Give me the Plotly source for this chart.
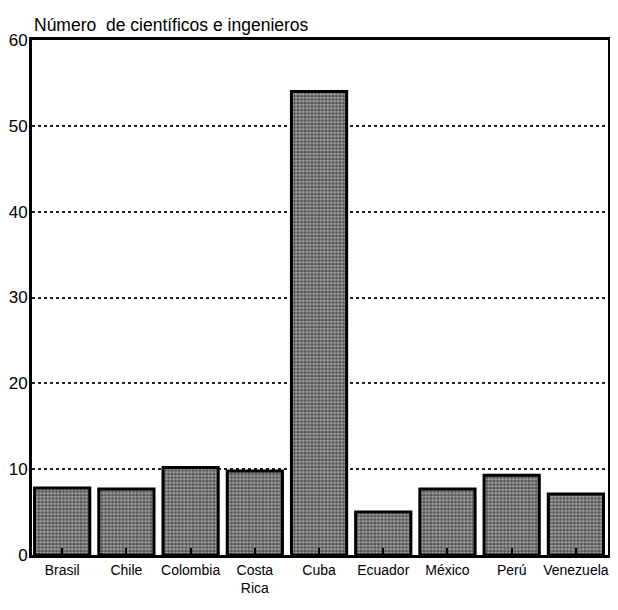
import plotly.graph_objects as go

countries = ["Brasil", "Chile", "Colombia", "Costa<br>Rica", "Cuba", "Ecuador", "México", "Perú", "Venezuela"]
values = [7.8, 7.7, 10.2, 9.8, 54.0, 5.0, 7.7, 9.3, 7.1]
y_ticks = [0, 10, 20, 30, 40, 50, 60]
title_text = "Número  de científicos e ingenieros"

FONT = "Liberation Sans, Arial, sans-serif"

fig = go.Figure(go.Bar(
    x=countries,
    y=values,
    width=0.86,
    marker=dict(
        color="#888",
        line=dict(color="black", width=3),
        pattern=dict(shape=".", size=3.5, solidity=0.5, fgcolor="#f2f2f2", bgcolor="#555", fillmode="overlay"),
    ),
    hoverinfo="x+y",
))

# The page body adds an 8px offset, so the figure is sized to fit inside the window.
fig.update_layout(
    width=602, height=594,
    margin=dict(l=24, r=2, t=32, b=47),
    paper_bgcolor="white", plot_bgcolor="white",
    showlegend=False,
    font=dict(family=FONT, color="black"),
    annotations=[dict(
        text=title_text, xref="paper", yref="paper", x=0, y=1,
        xanchor="left", yanchor="bottom", yshift=3, showarrow=False,
        font=dict(size=17.5, family=FONT, color="black"),
    )],
)

fig.update_xaxes(
    type="category", range=[-0.47, 8.5], automargin=False,
    showline=True, linecolor="black", linewidth=3, mirror=True,
    ticks="inside", ticklen=7, tickwidth=1.5, tickcolor="black",
    tickfont=dict(size=14, family=FONT, color="black"),
    showgrid=False,
)
fig.update_yaxes(
    range=[0, 60], tickvals=y_ticks, automargin=False,
    showline=True, linecolor="black", linewidth=3, mirror=True,
    ticks="", ticklabelstandoff=-2,
    tickfont=dict(size=17, family=FONT, color="black"),
    showgrid=True, gridcolor="#222", gridwidth=2, griddash="dot",
    zeroline=False,
)

fig.write_html("out.html")
